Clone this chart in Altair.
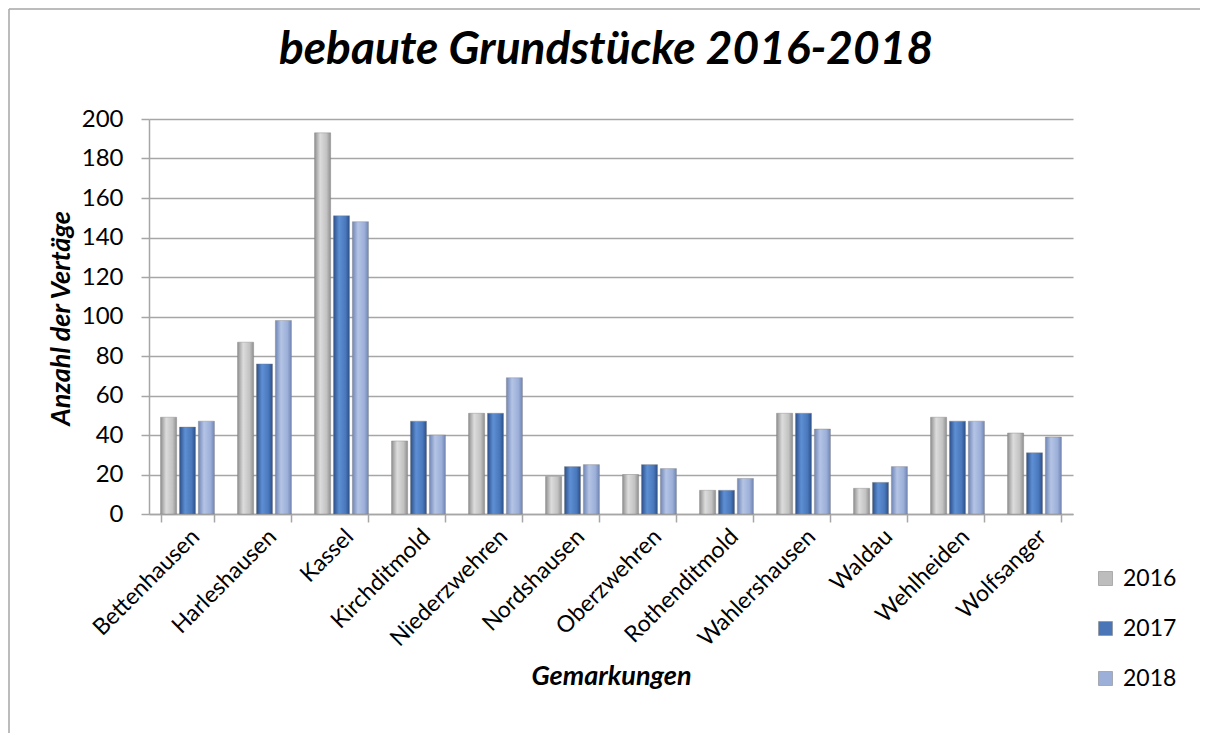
import altair as alt
import pandas as pd

categories = ["Bettenhausen", "Harleshausen", "Kassel", "Kirchditmold", "Niederzwehren",
              "Nordshausen", "Oberzwehren", "Rothenditmold", "Wahlershausen", "Waldau",
              "Wehlheiden", "Wolfsanger"]
years = ["2016", "2017", "2018"]
v2016 = [49, 87, 193, 37, 51, 19, 20, 12, 51, 13, 49, 41]
v2017 = [44, 76, 151, 47, 51, 24, 25, 12, 51, 16, 47, 31]
v2018 = [47, 98, 148, 40, 69, 25, 23, 18, 43, 24, 47, 39]
y_ticks = list(range(0, 201, 20))

rows = []
for yr, vals in zip(years, [v2016, v2017, v2018]):
    for c, v in zip(categories, vals):
        rows.append({"Gemarkung": c, "Jahr": yr, "Anzahl": v})
df = pd.DataFrame(rows)

W, H = 924, 395
FONT = "Lato"
GRID = "#a6a6a6"

x_enc = alt.X(
    "Gemarkung:N", sort=categories,
    scale=alt.Scale(paddingInner=0.3, paddingOuter=0.15),
    axis=alt.Axis(
        title="Gemarkungen", labelAngle=-45, labelFontSize=23, labelFont=FONT,
        labelColor="black", tickBand="extent", tickSize=8, tickColor=GRID,
        tickWidth=1.5, domainColor=GRID, domainWidth=1.5, labelPadding=3, grid=False,
        titleFontSize=27, titleFont=FONT, titleFontStyle="italic", titleFontWeight="bold",
        titleColor="black", titleY=162, titleBaseline="middle",
    ),
)
y_enc = alt.Y(
    "Anzahl:Q", scale=alt.Scale(domain=[0, 200], nice=False),
    axis=alt.Axis(
        values=y_ticks, title="Anzahl der Vertäge", labelFontSize=24, labelFont=FONT,
        labelColor="black", tickSize=8, tickColor=GRID, tickWidth=1.5,
        domainColor=GRID, domainWidth=1.5, gridColor=GRID, gridWidth=1.5,
        labelPadding=18, titleFontSize=27, titleFont=FONT, titleFontStyle="italic",
        titleFontWeight="bold", titleColor="black", titleX=-88, titleY=199,
        titleBaseline="middle", titleAlign="center",
    ),
)
xoff = alt.XOffset("Jahr:N", scale=alt.Scale(domain=years, paddingInner=0.15))


def grad(c_edge, c_light, c_mid):
    return alt.Gradient(
        gradient="linear", x1=0, x2=1, y1=0, y2=0,
        stops=[
            alt.GradientStop(color=c_edge, offset=0),
            alt.GradientStop(color=c_light, offset=0.35),
            alt.GradientStop(color=c_mid, offset=0.75),
            alt.GradientStop(color=c_edge, offset=1),
        ],
    )


fills = {
    "2016": grad("#8f8f8f", "#dcdcdc", "#c2c2c2"),
    "2017": grad("#2c4f88", "#5e8fd4", "#4a78bc"),
    "2018": grad("#7085b5", "#b4c4e6", "#9cafd8"),
}


def bar_layer(yr):
    return alt.Chart(df).transform_filter(alt.datum.Jahr == yr).mark_bar(
        fill=fills[yr], stroke="#7f7f7f", strokeWidth=0.4
    ).encode(x=x_enc, xOffset=xoff, y=y_enc)


legend_layer = alt.Chart(df).mark_bar(opacity=0).encode(
    x=x_enc, xOffset=xoff, y=y_enc,
    color=alt.Color(
        "Jahr:N",
        scale=alt.Scale(domain=years, range=["#bdbdbd", "#4a76b8", "#9cafd8"]),
        legend=alt.Legend(
            title=None, orient="none", legendX=945, legendY=448, symbolType="square",
            symbolSize=196, symbolOpacity=1, symbolStrokeColor="#8a8a8a",
            symbolStrokeWidth=0.6, labelFontSize=23, labelFont=FONT, labelColor="black",
            rowPadding=26, labelOffset=6,
        ),
    ),
)

title_df = pd.DataFrame({"t": ["bebaute Grundstücke 2016-2018"]})
title_layer = alt.Chart(title_df).mark_text(
    fontSize=46, font=FONT, fontStyle="italic", fontWeight="bold",
    align="center", baseline="middle", color="black",
).encode(text="t:N", x=alt.value(W / 2 - 5), y=alt.value(-69))

one = pd.DataFrame({"a": [0]})
frame_left = alt.Chart(one).mark_rule(color=GRID, strokeWidth=1.5).encode(
    x=alt.value(-140), y=alt.value(-110), y2=alt.value(614)
)
frame_top = alt.Chart(one).mark_rule(color=GRID, strokeWidth=1.5).encode(
    x=alt.value(-140), x2=alt.value(1051), y=alt.value(-110)
)

chart = alt.layer(
    frame_left, frame_top, legend_layer,
    bar_layer("2016"), bar_layer("2017"), bar_layer("2018"),
    title_layer,
).properties(
    width=W, height=H, padding=0, background="white"
).configure_view(stroke=None)

chart.save("out.html", embed_options={"renderer": "svg", "actions": False})
